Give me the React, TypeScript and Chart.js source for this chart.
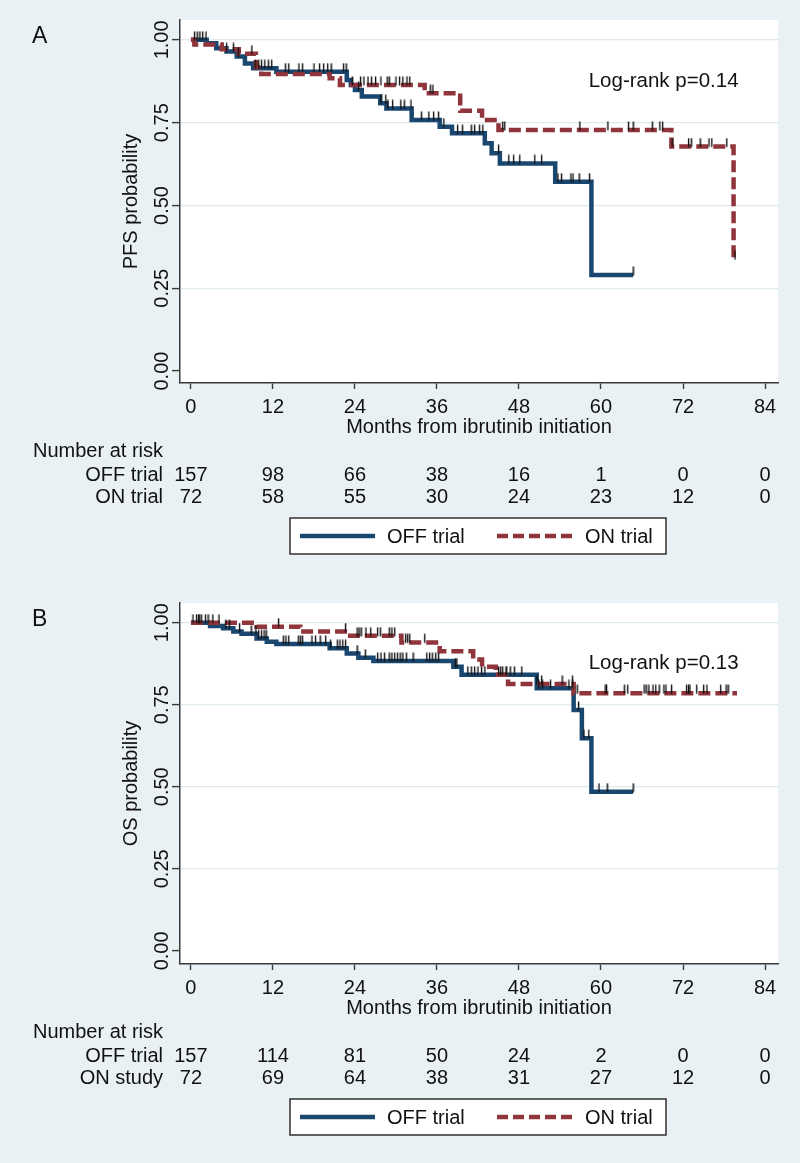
import React, { useEffect, useRef } from "react";
import { Chart, registerables } from "chart.js";

Chart.register(...registerables);

// ---------- axes ----------
const X_TICKS = [0, 12, 24, 36, 48, 60, 72, 84];
const Y_TICKS = [0, 0.25, 0.5, 0.75, 1];
const Y_TICK_LABELS = ["0.00", "0.25", "0.50", "0.75", "1.00"];

// ---------- Panel A: PFS ----------
const PFS_OFF_TIMES = [2.3, 3.7, 5.2, 6.7, 7.9, 9.1, 12.5, 22.8, 23.4, 24.0, 25.0, 27.7, 28.6, 32.3, 36.4, 38.2, 43.0, 44.0, 45.2, 53.3, 58.6];
const PFS_OFF_SURV = [0.99, 0.975, 0.965, 0.95, 0.929, 0.914, 0.904, 0.879, 0.864, 0.849, 0.829, 0.809, 0.793, 0.758, 0.738, 0.718, 0.688, 0.658, 0.627, 0.572, 0.29];
const PFS_OFF_END = 64.7;
const PFS_OFF_CENSOR = [0.5, 0.9, 1.3, 1.7, 2.2, 5.2, 6.2, 6.9, 9.4, 9.9, 10.3, 10.8, 11.3, 11.8, 13.8, 14.3, 15.8, 16.3, 18.0, 18.8, 19.4, 20.0, 20.5, 22.3, 22.7, 23.6, 24.5, 27.8, 28.5, 28.8, 29.5, 30.7, 31.2, 32.2, 33.7, 34.8, 35.5, 36.2, 37.0, 39.0, 39.7, 41.0, 41.5, 42.2, 42.7, 45.0, 46.5, 47.2, 48.1, 50.3, 51.3, 53.7, 54.2, 55.6, 55.9, 56.8, 58.3, 64.7];

const PFS_ON_TIMES = [0.5, 4.5, 7.0, 9.5, 10.3, 20.3, 21.8, 34.2, 39.4, 42.6, 45.0, 70.3, 79.4];
const PFS_ON_SURV = [0.986, 0.972, 0.958, 0.917, 0.897, 0.884, 0.864, 0.839, 0.786, 0.758, 0.728, 0.678, 0.338];
const PFS_ON_END = 79.6;
const PFS_ON_CENSOR = [8.9, 24.8, 25.3, 25.9, 26.4, 27.0, 27.8, 28.7, 29.0, 30.0, 30.5, 31.0, 31.6, 32.0, 35.0, 35.4, 45.6, 45.9, 56.9, 61.0, 64.0, 64.7, 67.5, 68.6, 69.0, 70.4, 72.8, 73.2, 74.5, 75.8, 76.2, 78.4, 79.6];

const PFS_RISK_OFF = [157, 98, 66, 38, 16, 1, 0, 0];
const PFS_RISK_ON = [72, 58, 55, 30, 24, 23, 12, 0];

// ---------- Panel B: OS ----------
const OS_OFF_TIMES = [2.8, 4.7, 6.2, 7.4, 9.6, 11.1, 12.5, 20.3, 22.8, 24.5, 26.7, 38.4, 39.6, 50.6, 56.0, 57.2, 58.6];
const OS_OFF_SURV = [0.99, 0.983, 0.973, 0.966, 0.952, 0.942, 0.935, 0.922, 0.906, 0.893, 0.883, 0.866, 0.841, 0.8, 0.734, 0.648, 0.485];
const OS_OFF_END = 64.7;
const OS_OFF_CENSOR = [0.3, 0.8, 1.1, 1.5, 2.1, 5.1, 5.6, 7.1, 8.8, 9.5, 9.9, 10.3, 10.7, 11.0, 13.5, 13.9, 14.3, 15.7, 16.0, 16.3, 17.7, 18.2, 18.9, 19.7, 20.4, 21.4, 21.8, 22.2, 22.6, 24.3, 25.5, 27.3, 27.8, 28.3, 29.0, 29.4, 29.8, 30.2, 30.6, 31.0, 31.5, 32.5, 34.5, 34.9, 35.3, 35.8, 36.2, 38.7, 38.9, 40.5, 41.0, 41.5, 42.0, 42.5, 43.0, 45.6, 46.2, 46.7, 47.3, 48.4, 50.9, 51.4, 52.6, 55.3, 55.8, 56.7, 57.5, 58.2, 59.7, 60.9, 64.7];

const OS_ON_TIMES = [9.6, 16.0, 23.3, 30.8, 36.4, 41.3, 42.6, 44.6, 46.4, 56.0];
const OS_ON_SURV = [0.988, 0.973, 0.96, 0.94, 0.913, 0.888, 0.866, 0.841, 0.813, 0.785];
const OS_ON_END = 79.9;
const OS_ON_CENSOR = [1.2, 2.5, 3.2, 4.1, 12.8, 22.6, 24.3, 24.6, 24.9, 25.6, 26.3, 27.3, 27.7, 29.0, 29.4, 29.8, 31.4, 31.7, 32.0, 34.2, 45.0, 45.3, 46.1, 50.6, 51.3, 54.3, 55.8, 56.5, 60.6, 60.8, 63.4, 63.9, 66.3, 66.6, 67.0, 67.6, 68.0, 68.5, 69.2, 69.5, 70.3, 72.5, 72.8, 73.0, 74.0, 75.0, 75.5, 77.5, 78.3, 78.6];

const OS_RISK_OFF = [157, 114, 81, 50, 24, 2, 0, 0];
const OS_RISK_ON = [72, 69, 64, 38, 31, 27, 12, 0];

// ---------- style ----------
const FONT = "'Liberation Sans', Arial, Helvetica, sans-serif";
const BG = "#e9f1f4";
const GRID = "#dfeaef";
const AXIS = "#3a3a3a";
const TEXT = "#111111";
const NAVY = "#1a476f";
const MAROON = "#90353b";
const FS = 20;

type Pt = { x: number; y: number };

function stepPoints(times: number[], surv: number[], end: number): Pt[] {
  const pts: Pt[] = [{ x: 0, y: 1 }];
  let prev = 1;
  for (let i = 0; i < times.length; i++) {
    pts.push({ x: times[i], y: prev });
    pts.push({ x: times[i], y: surv[i] });
    prev = surv[i];
  }
  pts.push({ x: end, y: prev });
  return pts;
}

function survAt(times: number[], surv: number[], t: number): number {
  let v = 1;
  for (let i = 0; i < times.length; i++) if (times[i] <= t) v = surv[i];
  return v;
}

function makeTickMark(): HTMLCanvasElement {
  const c = document.createElement("canvas");
  c.width = 3;
  c.height = 18;
  const g = c.getContext("2d")!;
  g.fillStyle = "#111";
  g.fillRect(0.9, 0.5, 1.4, 9);
  return c;
}

type PanelProps = {
  letter: string;
  yTitle: string;
  offTimes: number[];
  offSurv: number[];
  offEnd: number;
  offCensor: number[];
  onTimes: number[];
  onSurv: number[];
  onEnd: number;
  onCensor: number[];
  riskOff: number[];
  riskOn: number[];
  rowOff: string;
  rowOn: string;
  logrank: string;
  height: number;
  padTop: number;
  yMin: number;
  yMax: number;
};

const LR_X = 58.2;
const LR_Y = 0.858;

function Panel(p: PanelProps) {
  const ref = useRef<HTMLCanvasElement | null>(null);
  useEffect(() => {
    if (!ref.current) return;
    const tick = makeTickMark();
    const xHeight = 56;
    const chartBottom = 383;

    const decor = {
      id: "decor",
      beforeDraw(chart: any) {
        const { ctx, chartArea: a, width, height } = chart;
        ctx.save();
        ctx.fillStyle = BG;
        ctx.fillRect(0, 0, width, height);
        ctx.fillStyle = "#ffffff";
        ctx.fillRect(a.left, a.top, a.right - a.left, a.bottom - a.top);
        ctx.restore();
      },
      afterDraw(chart: any) {
        const ctx = chart.ctx;
        const xs = chart.scales.x;
        const ys = chart.scales.y;
        const a = chart.chartArea;
        ctx.save();
        ctx.fillStyle = TEXT;
        // rotated y tick labels
        ctx.font = `${FS}px ${FONT}`;
        ctx.textAlign = "center";
        ctx.textBaseline = "alphabetic";
        Y_TICKS.forEach((v, i) => {
          const y = ys.getPixelForValue(v);
          ctx.save();
          ctx.translate(a.left - 12, y);
          ctx.rotate(-Math.PI / 2);
          ctx.fillText(Y_TICK_LABELS[i], 0, 0);
          ctx.restore();
        });
        // panel letter
        ctx.font = `23px ${FONT}`;
        ctx.textAlign = "left";
        ctx.fillText(p.letter, 32, p.padTop + 23);
        // log-rank
        ctx.font = `20.5px ${FONT}`;
        ctx.fillText(p.logrank, xs.getPixelForValue(LR_X), ys.getPixelForValue(LR_Y));
        // number at risk
        ctx.font = `${FS}px ${FONT}`;
        ctx.textAlign = "left";
        ctx.fillText("Number at risk", 33, 457.3);
        ctx.textAlign = "right";
        ctx.fillText(p.rowOff, 163, 480.7);
        ctx.fillText(p.rowOn, 163, 503.3);
        ctx.textAlign = "center";
        X_TICKS.forEach((t, i) => {
          const x = xs.getPixelForValue(t);
          ctx.fillText(String(p.riskOff[i]), x, 480.7);
          ctx.fillText(String(p.riskOn[i]), x, 503.3);
        });
        // legend
        const bx = 290, by = 518, bw = 376, bh = 36;
        ctx.fillStyle = "#ffffff";
        ctx.fillRect(bx, by, bw, bh);
        ctx.strokeStyle = "#222";
        ctx.lineWidth = 1.4;
        ctx.strokeRect(bx, by, bw, bh);
        const ly = by + bh / 2;
        ctx.lineWidth = 4.5;
        ctx.strokeStyle = NAVY;
        ctx.setLineDash([]);
        ctx.beginPath();
        ctx.moveTo(300, ly);
        ctx.lineTo(375, ly);
        ctx.stroke();
        ctx.strokeStyle = MAROON;
        ctx.setLineDash([11, 5]);
        ctx.beginPath();
        ctx.moveTo(497, ly);
        ctx.lineTo(574, ly);
        ctx.stroke();
        ctx.setLineDash([]);
        ctx.fillStyle = TEXT;
        ctx.textAlign = "left";
        ctx.fillText("OFF trial", 387, ly + 7);
        ctx.fillText("ON trial", 585, ly + 7);
        ctx.restore();
      },
    };

    const chart = new Chart(ref.current, {
      type: "line",
      data: {
        datasets: [
          {
            label: "ON censored",
            data: p.onCensor.map((t) => ({ x: t, y: survAt(p.onTimes, p.onSurv, t) })),
            showLine: false,
            pointStyle: tick as any,
            pointRadius: 3,
            order: 0,
          },
          {
            label: "OFF censored",
            data: p.offCensor.map((t) => ({ x: t, y: survAt(p.offTimes, p.offSurv, t) })),
            showLine: false,
            pointStyle: tick as any,
            pointRadius: 3,
            order: 1,
          },
          {
            label: "ON trial",
            data: stepPoints(p.onTimes, p.onSurv, p.onEnd),
            borderColor: MAROON,
            borderWidth: 4.5,
            borderDash: [12, 5],
            pointRadius: 0,
            tension: 0,
            fill: false,
            order: 2,
          },
          {
            label: "OFF trial",
            data: stepPoints(p.offTimes, p.offSurv, p.offEnd),
            borderColor: NAVY,
            borderWidth: 4.5,
            pointRadius: 0,
            tension: 0,
            fill: false,
            order: 3,
          },
        ],
      },
      options: {
        animation: false,
        responsive: false,
        devicePixelRatio: 1,
        events: [],
        layout: { padding: { left: 0, right: 22, top: p.padTop, bottom: p.height - chartBottom - xHeight } },
        plugins: { legend: { display: false }, tooltip: { enabled: false } },
        scales: {
          x: {
            type: "linear",
            min: -1.6,
            max: 85.9,
            afterBuildTicks: (s: any) => {
              s.ticks = X_TICKS.map((v) => ({ value: v }));
            },
            afterFit: (s: any) => {
              s.height = xHeight;
            },
            ticks: {
              autoSkip: false,
              maxRotation: 0,
              minRotation: 0,
              padding: 6,
              color: TEXT,
              font: { family: FONT, size: FS },
            },
            grid: {
              display: true,
              drawOnChartArea: false,
              drawTicks: true,
              tickLength: 6,
              tickColor: AXIS,
              tickWidth: 1.4,
            },
            border: { display: true, color: AXIS, width: 1.5 },
            title: {
              display: true,
              text: "Months from ibrutinib initiation",
              color: TEXT,
              font: { family: FONT, size: FS },
              padding: { top: 0, bottom: 0 },
            },
          },
          y: {
            type: "linear",
            min: p.yMin,
            max: p.yMax,
            afterBuildTicks: (s: any) => {
              s.ticks = Y_TICKS.map((v) => ({ value: v }));
            },
            afterFit: (s: any) => {
              s.width = 180;
            },
            ticks: { display: false },
            grid: {
              display: true,
              drawOnChartArea: true,
              drawTicks: true,
              tickLength: 8,
              tickColor: AXIS,
              tickWidth: 1.4,
              lineWidth: 1.2,
              color: (c: any) => (c.tick && c.tick.value === 0 ? "rgba(0,0,0,0)" : GRID),
            },
            border: { display: true, color: AXIS, width: 1.5 },
            title: {
              display: true,
              text: p.yTitle,
              color: TEXT,
              font: { family: FONT, size: FS },
              padding: { top: 119, bottom: 0 },
            },
          },
        },
      },
      plugins: [decor],
    });
    return () => chart.destroy();
  }, []);
  return <canvas ref={ref} width={800} height={p.height} style={{ display: "block", width: 800, height: p.height }} />;
}

export default function App() {
  return (
    <div style={{ position: "absolute", left: 0, top: 0, width: 800, height: 1163, background: BG }}>
      <Panel
        letter="A"
        yTitle="PFS probability"
        offTimes={PFS_OFF_TIMES}
        offSurv={PFS_OFF_SURV}
        offEnd={PFS_OFF_END}
        offCensor={PFS_OFF_CENSOR}
        onTimes={PFS_ON_TIMES}
        onSurv={PFS_ON_SURV}
        onEnd={PFS_ON_END}
        onCensor={PFS_ON_CENSOR}
        riskOff={PFS_RISK_OFF}
        riskOn={PFS_RISK_ON}
        rowOff="OFF trial"
        rowOn="ON trial"
        logrank="Log-rank p=0.14"
        height={581}
        padTop={20}
        yMin={-0.036}
        yMax={1.06}
      />
      <Panel
        letter="B"
        yTitle="OS probability"
        offTimes={OS_OFF_TIMES}
        offSurv={OS_OFF_SURV}
        offEnd={OS_OFF_END}
        offCensor={OS_OFF_CENSOR}
        onTimes={OS_ON_TIMES}
        onSurv={OS_ON_SURV}
        onEnd={OS_ON_END}
        onCensor={OS_ON_CENSOR}
        riskOff={OS_RISK_OFF}
        riskOn={OS_RISK_ON}
        rowOff="OFF trial"
        rowOn="ON study"
        logrank="Log-rank p=0.13"
        height={582}
        padTop={22}
        yMin={-0.04}
        yMax={1.06}
      />
    </div>
  );
}
